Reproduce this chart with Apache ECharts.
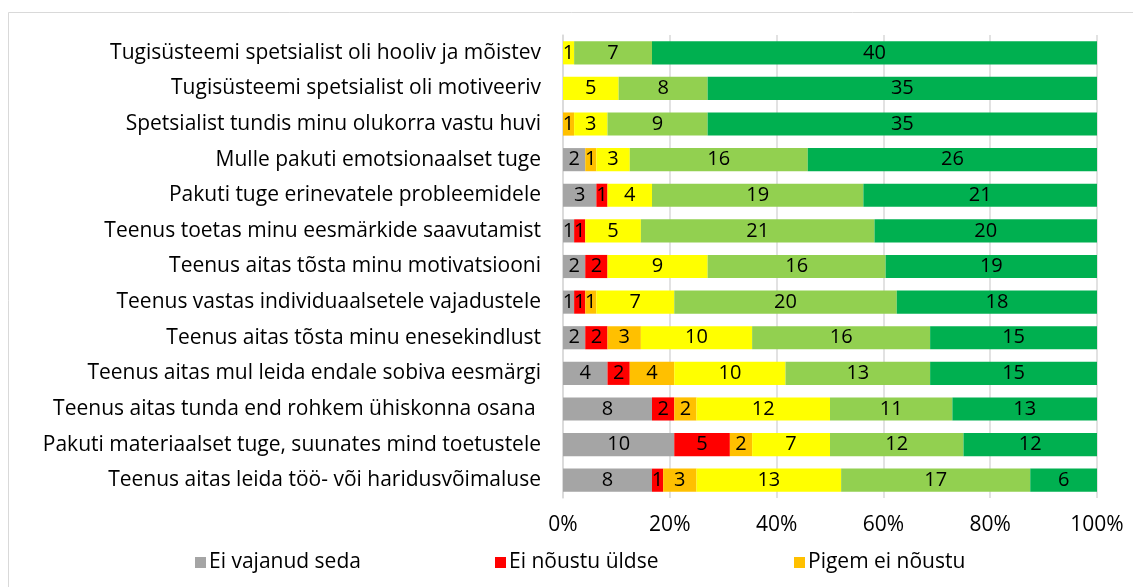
<!DOCTYPE html>
<html>
<head>
<meta charset="utf-8">
<script src="https://cdn.jsdelivr.net/npm/echarts@6/dist/echarts.min.js"></script>
<style>
html,body{margin:0;padding:0;background:#fff;}
#chart{width:1133px;height:587px;}
</style>
</head>
<body>
<div id="chart"></div>
<script>
const categories = [
  "Tugisüsteemi spetsialist oli hooliv ja mõistev",
  "Tugisüsteemi spetsialist oli motiveeriv",
  "Spetsialist tundis minu olukorra vastu huvi",
  "Mulle pakuti emotsionaalset tuge",
  "Pakuti tuge erinevatele probleemidele",
  "Teenus toetas minu eesmärkide saavutamist",
  "Teenus aitas tõsta minu motivatsiooni",
  "Teenus vastas individuaalsetele vajadustele",
  "Teenus aitas tõsta minu enesekindlust",
  "Teenus aitas mul leida endale sobiva eesmärgi",
  "Teenus aitas tunda end rohkem ühiskonna osana ",
  "Pakuti materiaalset tuge, suunates mind toetustele",
  "Teenus aitas leida töö- või haridusvõimaluse"
];
const seriesNames = ["Ei vajanud seda", "Ei nõustu üldse", "Pigem ei nõustu", "Pigem nõustun", "Nõustun", "Täiesti nõustun"];
const eiVajanud   = [0, 0, 0, 2, 3, 1, 2, 1, 2, 4, 8, 10, 8];
const eiNoustu    = [0, 0, 0, 0, 1, 1, 2, 1, 2, 2, 2, 5, 1];
const pigemEi     = [0, 0, 1, 1, 0, 0, 0, 1, 3, 4, 2, 2, 3];
const pigemJah    = [1, 5, 3, 3, 4, 5, 9, 7, 10, 10, 12, 7, 13];
const noustun     = [7, 8, 9, 16, 19, 21, 16, 20, 16, 13, 11, 12, 17];
const taiesti     = [40, 35, 35, 26, 21, 20, 19, 18, 15, 15, 13, 12, 6];
const tickLabels  = ["0%", "20%", "40%", "60%", "80%", "100%"];
const colors = ["#A5A5A5", "#FF0000", "#FFC000", "#FFFF00", "#92D050", "#00B050"];

const allSeries = [eiVajanud, eiNoustu, pigemEi, pigemJah, noustun, taiesti];
const totals = categories.map((c, i) => allSeries.reduce((s, arr) => s + arr[i], 0));
const FONT = "Open Sans";
const FS = 21;

const series = allSeries.map((arr, k) => ({
  name: seriesNames[k],
  type: 'bar',
  stack: 'total',
  barWidth: '65%',
  itemStyle: { color: colors[k] },
  label: {
    show: true,
    position: 'inside',
    color: '#000',
    fontFamily: FONT,
    fontSize: 20,
    formatter: p => (p.data.raw > 0 ? String(p.data.raw) : '')
  },
  emphasis: { disabled: true },
  data: arr.map((v, i) => ({ value: v / totals[i] * 100, raw: v }))
}));

const chart = echarts.init(document.getElementById('chart'));
chart.setOption({
  animation: false,
  backgroundColor: '#fff',
  textStyle: { fontFamily: FONT },
  graphic: [{
    type: 'rect',
    shape: { x: 8.5, y: 12.5, width: 1200, height: 700 },
    style: { fill: 'none', stroke: '#D9D9D9', lineWidth: 1 },
    silent: true
  }],
  grid: { left: 563, right: 36, top: 35, bottom: 89, containLabel: false },
  legend: [
    { data: [seriesNames[0]], left: 190, top: 547 },
    { data: [seriesNames[1]], left: 490, top: 547 },
    { data: [seriesNames[2]], left: 789, top: 547 }
  ].map(l => Object.assign(l, {
    icon: 'rect', itemWidth: 11, itemHeight: 11, itemGap: 0,
    textStyle: { fontFamily: FONT, fontSize: FS, color: '#000', padding: [0, 0, 0, -2] },
    selectedMode: false
  })),
  xAxis: {
    type: 'value',
    min: 0, max: 100, interval: 20,
    axisLine: { show: false },
    axisTick: { show: false },
    splitLine: { show: true, lineStyle: { color: '#D9D9D9', width: 1.5 } },
    axisLabel: {
      margin: 17,
      fontFamily: FONT, fontSize: FS, color: '#000',
      formatter: v => tickLabels[Math.round(v / 20)]
    }
  },
  yAxis: {
    type: 'category',
    inverse: true,
    data: categories,
    axisLine: { show: true, lineStyle: { color: '#D9D9D9', width: 1.5 } },
    axisTick: { show: false },
    axisLabel: { margin: 22, fontFamily: FONT, fontSize: FS, color: '#000' }
  },
  series: series
});
</script>
</body>
</html>
